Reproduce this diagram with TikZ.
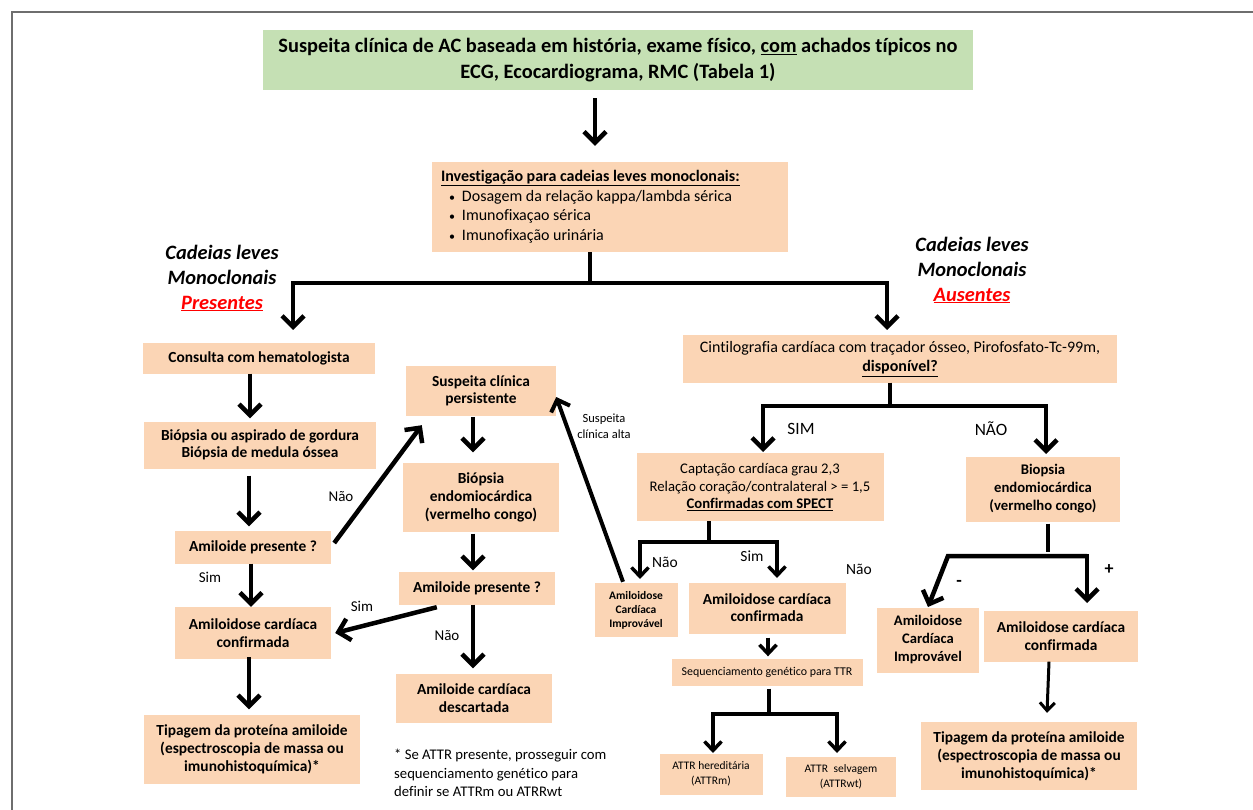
\documentclass[tikz,border=0pt]{standalone}
\usepackage{fontspec}
\setmainfont{Carlito}[Ligatures=NoCommon]
\usetikzlibrary{arrows.meta}
\definecolor{peach}{HTML}{FBD5B5}
\definecolor{lgreen}{HTML}{C5E0B4}
\definecolor{framegray}{HTML}{6E6E6E}
\newcommand\myfs[2]{\fontsize{#1}{#2}\selectfont}
\newcommand\mybul{\hspace*{8pt}{\myfs{12}{12}\textbullet}\hspace{7pt}}
\begin{document}
\begin{tikzpicture}[x=1pt,y=1pt,
  box/.style={fill=peach, inner sep=0pt, align=center},
  bbox/.style={box, font=\bfseries\myfs{15.4}{17.5}},
  ln/.style={line width=4.5pt, line join=miter},
  arr/.style={line width=4.5pt, line join=miter, -{Straight Barb[length=11pt,width=22pt]}},
  ln3/.style={line width=3.5pt, line join=miter},
  arr3/.style={line width=3.5pt, line join=miter, -{Straight Barb[length=9pt,width=17pt]}},
  arrT/.style={line width=3pt, -{Straight Barb[length=8pt,width=15pt]}},
  arrS/.style={line width=4pt, -{Straight Barb[length=10pt,width=20pt]}},
  lbl/.style={inner sep=0pt, font=\myfs{15}{17}},
]
\useasboundingbox (0,0) rectangle (1253,-810);
\draw[framegray, line width=1.5pt] (12,-810) -- (12,-12) -- (1253,-12);

% top
\node[fill=lgreen, inner sep=0pt, align=center, minimum width=710pt, minimum height=60pt, font=\bfseries\myfs{20.4}{26}] (top) at (618,-60)
  {Suspeita clínica de AC baseada em história, exame físico, \underline{com} achados típicos no\\ECG, Ecocardiograma, RMC (Tabela 1)};

\node[box, minimum width=356pt, minimum height=90pt] (inv) at (610,-207) {};
\node[inner sep=0pt, anchor=west, align=flush left, font=\myfs{16}{19.5}] (invt) at ([xshift=9pt,yshift=0.5pt]inv.west)
  {\textbf{\underline{Investigação para cadeias leves monoclonais:}}\\
   \mybul Dosagem da relação kappa/lambda sérica\\
   \mybul Imunofixaçao sérica\\
   \mybul Imunofixação urinária};

\node[inner sep=0pt, align=center, font=\bfseries\itshape\myfs{20.4}{25}] (cadL) at (222,-278)
  {Cadeias leves\\Monoclonais\\\textcolor{red}{\underline{Presentes}}};
\node[inner sep=0pt, align=center, font=\bfseries\itshape\myfs{20.4}{25}] (cadR) at (972,-270)
  {Cadeias leves\\Monoclonais\\\textcolor{red}{\underline{Ausentes}}};

% left column
\node[bbox, minimum width=232pt, minimum height=31pt] (cons) at (259,-358) {Consulta com hematologista};
\node[bbox, minimum width=232pt, minimum height=47pt] (biop1) at (260,-445) {Biópsia ou aspirado de gordura\\Biópsia de medula óssea};
\node[bbox, minimum width=156pt, minimum height=33pt] (ami1) at (253,-547) {Amiloide presente ?};
\node[bbox, minimum width=156pt, minimum height=52pt] (conf1) at (253,-633) {Amiloidose cardíaca\\confirmada};
\node[bbox, minimum width=216pt, minimum height=69pt, font=\bfseries\myfs{15.4}{18}] (tip1) at (252,-749) {Tipagem da proteína amiloide\\(espectroscopia de massa ou\\imunohistoquímica)*};

% middle column
\node[bbox, minimum width=150pt, minimum height=50pt] (susp) at (481,-391) {Suspeita clínica\\persistente};
\node[bbox, minimum width=156pt, minimum height=69pt, font=\bfseries\myfs{15.4}{18}] (biop2) at (481,-497) {Biópsia\\endomiocárdica\\(vermelho congo)};
\node[bbox, minimum width=156pt, minimum height=33pt] (ami2) at (477,-588) {Amiloide presente ?};
\node[bbox, minimum width=156pt, minimum height=49pt] (desc) at (474,-698) {Amiloide cardíaca\\descartada};
\node[anchor=north west, inner sep=0pt, align=flush left, font=\myfs{14.7}{18.5}] (fn) at (394,-749)
  {* Se ATTR presente, prosseguir com\\sequenciamento genético para\\definir se ATTRm ou ATRRwt};

% right side
\node[box, minimum width=434pt, minimum height=47pt, font=\myfs{16}{19}] (cint) at (900,-359)
  {Cintilografia cardíaca com traçador ósseo, Pirofosfato-Tc-99m,\\\textbf{\underline{disponível?}}};
\node[box, minimum width=247pt, minimum height=68pt, font=\myfs{14.7}{17.5}] (capt) at (760,-487)
  {Captação cardíaca grau 2,3\\Relação coração/contralateral > = 1,5\\\textbf{\underline{Confirmadas com SPECT}}};
\node[box, minimum width=154pt, minimum height=65pt, font=\bfseries\myfs{14.7}{18}] (biop3) at (1043,-489)
  {Biopsia\\endomiocárdica\\(vermelho congo)};
\node[box, minimum width=83pt, minimum height=54pt, font=\bfseries\myfs{11.5}{14}] (impr1) at (636,-610)
  {Amiloidose\\Cardíaca\\Improvável};
\node[box, minimum width=157pt, minimum height=51pt, font=\bfseries\myfs{15.4}{17}] (conf2) at (767,-608)
  {Amiloidose cardíaca\\confirmada};
\node[box, minimum width=191pt, minimum height=27pt, font=\myfs{11.9}{13}] (seq) at (767,-672)
  {Sequenciamento genético para TTR};
\node[box, minimum width=103pt, minimum height=41pt, font=\myfs{11.5}{15}] (attrm) at (711,-774)
  {ATTR hereditária\\(ATTRm)};
\node[box, minimum width=110pt, minimum height=40pt, font=\myfs{11.5}{15}] (attrwt) at (841,-777)
  {ATTR\enspace selvagem\\(ATTRwt)};
\node[box, minimum width=102pt, minimum height=65pt, font=\bfseries\myfs{14.6}{18}] (impr2) at (928,-640)
  {Amiloidose\\Cardíaca\\Improvável};
\node[bbox, minimum width=154pt, minimum height=51pt] (conf3) at (1061,-636)
  {Amiloidose cardíaca\\confirmada};
\node[bbox, minimum width=216pt, minimum height=68pt, font=\bfseries\myfs{15.4}{18}] (tip2) at (1029,-756)
  {Tipagem da proteína amiloide\\(espectroscopia de massa ou\\imunohistoquímica)*};

% connectors top
\draw[arr] ([xshift=-23pt,yshift=-8pt]top.south) -- ([xshift=-15pt,yshift=16pt]inv.north);
\coordinate (barM) at (590,-283);
\coordinate (pL) at (293,-330);
\coordinate (pR) at (887,-330);
\draw[ln] ([xshift=-20pt]inv.south) -- (barM);
\draw[arr] (barM) -| (pL);
\draw[arr] (barM) -| (pR);

% left connectors
\draw[arr] ([xshift=-9pt]cons.south) -- ([xshift=-10pt,yshift=3pt]biop1.north);
\draw[arr] ([xshift=-11pt,yshift=-7pt]biop1.south) -- ([xshift=-4pt,yshift=4pt]ami1.north);
\draw[arr] ([xshift=-2pt]ami1.south) -- ([xshift=-2pt]conf1.north);
\draw[arr] ([xshift=-4pt,yshift=2pt]conf1.south) -- ([xshift=-3pt,yshift=5pt]tip1.north);
\draw[arr] ([xshift=3pt,yshift=4pt]ami1.east) -- ([xshift=16pt,yshift=-9pt]susp.south west);
\node[lbl] at (341,-497) {Não};
\node[lbl] at (210,-577) {Sim};

% middle connectors
\draw[arr] ([xshift=-8pt,yshift=-1pt]susp.south) -- ([xshift=-8pt,yshift=10pt]biop2.north);
\draw[arr] ([xshift=-8pt,yshift=-2pt]biop2.south) -- ([xshift=-4pt,yshift=1pt]ami2.north);
\draw[arr] ([xshift=-4pt]ami2.south) -- ([xshift=-1pt,yshift=5pt]desc.north);
\draw[arr] ([xshift=38pt,yshift=-2.5pt]ami2.south west) -- ([xshift=4pt]conf1.east);
\node[lbl] at (362,-606) {Sim};
\node[lbl] at (447,-636) {Não};

\draw[arrS] ([xshift=-13pt,yshift=1pt]impr1.north) -- ([yshift=-6pt]susp.east);
\node[inner sep=0pt, align=center, font=\myfs{12.5}{16}] at (604,-426) {Suspeita\\clínica alta};

% right connectors
\coordinate (cM) at (890,-406);
\coordinate (qL) at (763,-452);
\coordinate (qR) at (1046,-454);
\draw[ln] ([xshift=-10pt]cint.south) -- (cM);
\draw[arr] (cM) -| (qL);
\draw[arr] (cM) -| (qR);
\node[lbl, font=\myfs{17.3}{19}] at (801,-429) {SIM};
\node[lbl, font=\myfs{17.3}{19}] at (991,-429) {NÃO};

\coordinate (kM) at (709,-542);
\coordinate (kL) at (640,-579);
\coordinate (kR) at (777,-578);
\draw[ln3] ([xshift=-51pt]capt.south) -- (kM);
\draw[arr3] (kM) -| (kL);
\draw[arr3] (kM) -| (kR);
\node[lbl, font=\myfs{15.5}{17}] at (665,-562) {Não};
\node[lbl, font=\myfs{15.5}{17}] at (752,-556) {Sim};
\node[lbl, font=\myfs{15.5}{17}] at (859,-569) {Não};

\draw[arr3] ([xshift=1pt,yshift=-4pt]conf2.south) -- ([xshift=1pt,yshift=2pt]seq.north);
\coordinate (sM) at (769,-714);
\coordinate (sL) at (713,-753);
\coordinate (sR) at (837,-753);
\draw[ln3] ([xshift=2pt,yshift=-3pt]seq.south) -- (sM);
\draw[arr3] (sM) -| (sL);
\draw[arr3] (sM) -| (sR);

\coordinate (bL) at (948,-556);
\coordinate (bR) at (1087,-556);
\coordinate (eL) at (928,-607);
\coordinate (eR) at (1087,-603);
\draw[ln] ([xshift=5pt,yshift=-2pt]biop3.south) -- ++(0,-28);
\draw[arr] (bR) -- (bL) -- (eL);
\draw[arr] (bL) -- (bR) -- (eR);
\node[inner sep=0pt, font=\bfseries\myfs{18}{20}] at (959,-583) {-};
\node[inner sep=0pt, font=\bfseries\myfs{18}{20}] at (1109,-570) {+};

\draw[arrT] ([xshift=-12pt]conf3.south) -- ([xshift=18pt,yshift=9pt]tip2.north);
\end{tikzpicture}
\end{document}
